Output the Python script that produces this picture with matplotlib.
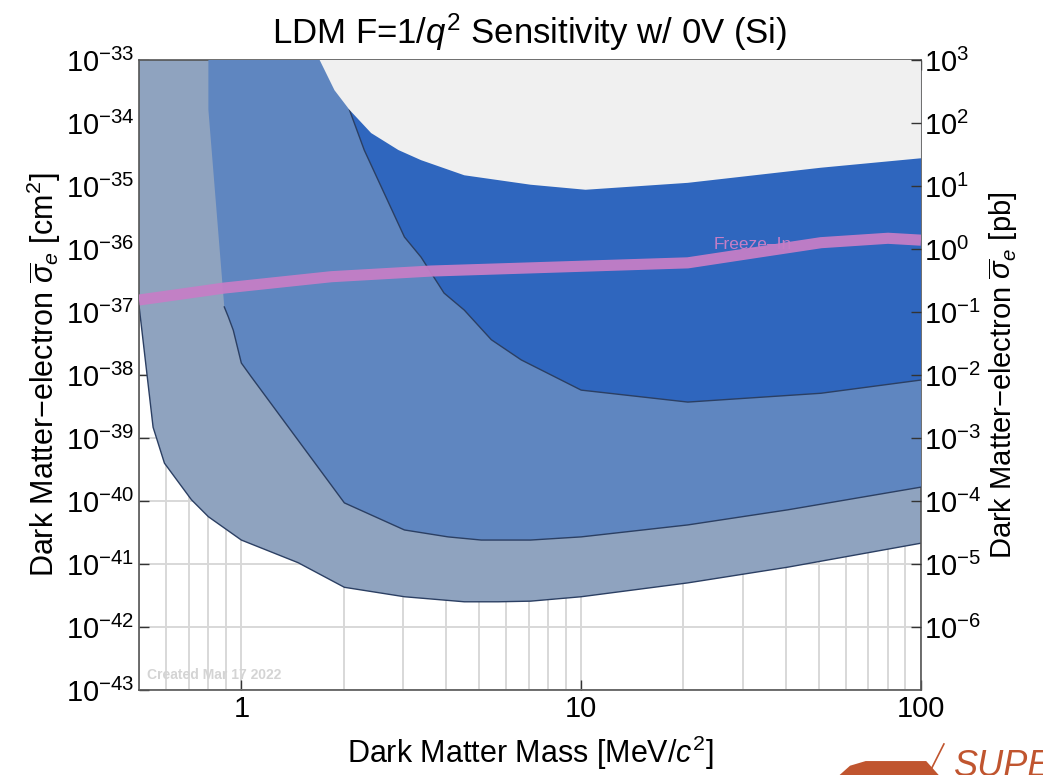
import numpy as np
import matplotlib
matplotlib.use("Agg")
import matplotlib.pyplot as plt
from matplotlib.patches import Polygon
from matplotlib.ticker import FixedLocator, NullLocator

plt.rcParams['font.family'] = ['Liberation Sans', 'DejaVu Sans']
plt.rcParams['mathtext.fontset'] = 'custom'
plt.rcParams['mathtext.rm'] = 'Liberation Sans'
plt.rcParams['mathtext.it'] = 'Liberation Sans:italic'
plt.rcParams['mathtext.bf'] = 'Liberation Sans:bold'

# curvas (masa en MeV, log10 de sigma en cm^2)
masa_ext = [0.50, 0.55, 0.594, 0.713, 0.80, 1.0, 1.47, 2.01, 3.02, 4.53, 5.7, 7.1, 10, 20.6, 40.6, 100]
lsig_ext = [-36.9, -38.83, -39.40, -39.98, -40.25, -40.62, -40.98, -41.37, -41.52, -41.60, -41.60,
            -41.59, -41.52, -41.30, -41.05, -40.67]

masa_med = [0.80, 0.891, 0.916, 0.947, 1.0, 1.07, 2.01, 3.02, 4.06, 5.08, 7.1, 10, 20.6, 40.6, 100]
lsig_med = [-33.79, -36.92, -37.08, -37.29, -37.81, -38.03, -40.03, -40.46, -40.57, -40.62, -40.62,
            -40.57, -40.38, -40.14, -39.78]

masa_int = [2.08, 2.30, 3.02, 3.38, 3.95, 4.53, 5.44, 6.66, 10, 20.6, 50.8, 100]
lsig_int = [-33.79, -34.43, -35.81, -36.13, -36.70, -36.97, -37.44, -37.76, -38.24, -38.43, -38.29, -38.08]

masa_excl = [1.70, 1.88, 2.08, 2.41, 2.90, 3.38, 4.53, 7.1, 10.3, 20.6, 50.8, 100]
lsig_excl = [-33.0, -33.48, -33.79, -34.16, -34.43, -34.59, -34.83, -34.98, -35.06, -34.95, -34.71, -34.56]

masa_fi = [0.5, 0.891, 1.84, 3.62, 7.1, 20.6, 32.3, 50.8, 80, 100]
lsig_fi = [-36.81, -36.62, -36.44, -36.35, -36.30, -36.22, -36.06, -35.90, -35.83, -35.86]

exp_cm2 = list(range(-43, -32))
exp_pb = list(range(-6, 4))
x_ticks = [1, 10, 100]

y_top = 1e-33
borde = '#2b3f63'

fig = plt.figure(figsize=(10.43, 7.75), dpi=100)
ax = fig.add_axes([0.1333, 0.1097, 0.7497, 0.8129])
ax.set_xscale('log')
ax.set_yscale('log')
ax.set_xlim(0.5, 100)
ax.set_ylim(1e-43, 1e-33)

# rejilla menor en x (2..9 de cada decada dentro del rango)
x_minor = [k * 10.0 ** d for d in (-1, 0, 1) for k in range(2, 10) if 0.5 <= k * 10.0 ** d <= 100]

ax.set_xticks(x_ticks)
ax.set_xticklabels([f'{v:g}' for v in x_ticks])
ax.xaxis.set_minor_locator(FixedLocator(x_minor))
ax.set_yticks([10.0 ** e for e in exp_cm2])
ax.set_yticklabels([r'$10^{%d}$' % e for e in exp_cm2])
ax.yaxis.set_minor_locator(NullLocator())

ax.grid(True, which='major', axis='both', color='#d8d8d8', lw=1.4, zorder=0)
ax.grid(True, which='minor', axis='x', color='#d8d8d8', lw=1.4, zorder=0)
ax.set_axisbelow(True)


def region(masa, lsig, color, z, linea=True, desde=0):
    m = np.array(masa)
    s = 10.0 ** np.array(lsig)
    xs = np.concatenate([[m[0]], m, [m[-1]]])
    ys = np.concatenate([[y_top * 10], s, [y_top * 10]])
    ax.fill(xs, ys, color=color, lw=0, zorder=z)
    if linea:
        ax.plot(m[desde:], s[desde:], color=borde, lw=1.0, zorder=z + 0.1)


# banda exterior arranca en el borde izquierdo
region([0.45] + masa_ext, [lsig_ext[0]] + lsig_ext, '#8fa3bf', 2)
region(masa_med, lsig_med, '#5f86c0', 3, desde=1)
region(masa_int, lsig_int, '#2f66be', 4)
region(masa_excl, lsig_excl, '#f0f0f0', 5, linea=False)

ax.plot(masa_fi, 10.0 ** np.array(lsig_fi), color='#c57ec6', lw=8, alpha=0.95,
        solid_capstyle='butt', zorder=6)
ax.text(24.6, 10 ** -35.93, 'Freeze\u2013In', color='#c57ec6',
        fontsize=12.5, ha='left', va='center', zorder=5.5)
ax.text(0.01, 0.012, 'Created Mar 17 2022', transform=ax.transAxes, color='#d4d4d4',
        fontsize=10, fontweight='bold', ha='left', va='bottom', zorder=7)

ax.tick_params(axis='both', which='major', direction='in', length=7, width=1,
               labelsize=21, color='#333333', top=True)
ax.tick_params(axis='x', which='minor', length=0)
ax.tick_params(axis='y', which='major', right=False)

for sp in ax.spines.values():
    sp.set_color('#555555')
    sp.set_linewidth(1.2)

ax2 = ax.twinx()
ax2.set_yscale('log')
ax2.set_ylim(1e-7, 1e3)
ax2.set_yticks([10.0 ** e for e in exp_pb])
ax2.set_yticklabels([r'$10^{%d}$' % e for e in exp_pb])
ax2.yaxis.set_minor_locator(NullLocator())
ax2.tick_params(axis='y', which='major', direction='in', length=7, width=1,
                labelsize=21, color='#333333', pad=2)
for sp in ax2.spines.values():
    sp.set_visible(False)

ax.set_title(r'LDM F=1/$q^2$ Sensitivity w/ 0V (Si)', fontsize=25, pad=12)
ax.set_xlabel(r'Dark Matter Mass [MeV/$c^2$]', fontsize=22, labelpad=8)
ax.set_ylabel(r'Dark Matter$-$electron $\overline{\sigma}_e$ [cm$^2$]', fontsize=22, labelpad=2)
ax2.set_ylabel(r'Dark Matter$-$electron $\overline{\sigma}_e$ [pb]', fontsize=21, labelpad=4)

# logo recortado abajo a la derecha
logo = Polygon([[0.805, 0.0], [0.815, 0.012], [0.83, 0.018], [0.888, 0.018], [0.9, 0.0]],
               closed=True, transform=fig.transFigure, color='#c0552f', lw=0)
fig.patches.append(logo)
fig.add_artist(plt.Line2D([0.89, 0.905], [0.0, 0.04], transform=fig.transFigure,
                          color='#c0552f', lw=1.2))
fig.text(0.915, -0.012, 'SUPE', color='#c0552f', fontsize=26, style='italic',
         ha='left', va='bottom')

fig.savefig('out.png', dpi=100)
